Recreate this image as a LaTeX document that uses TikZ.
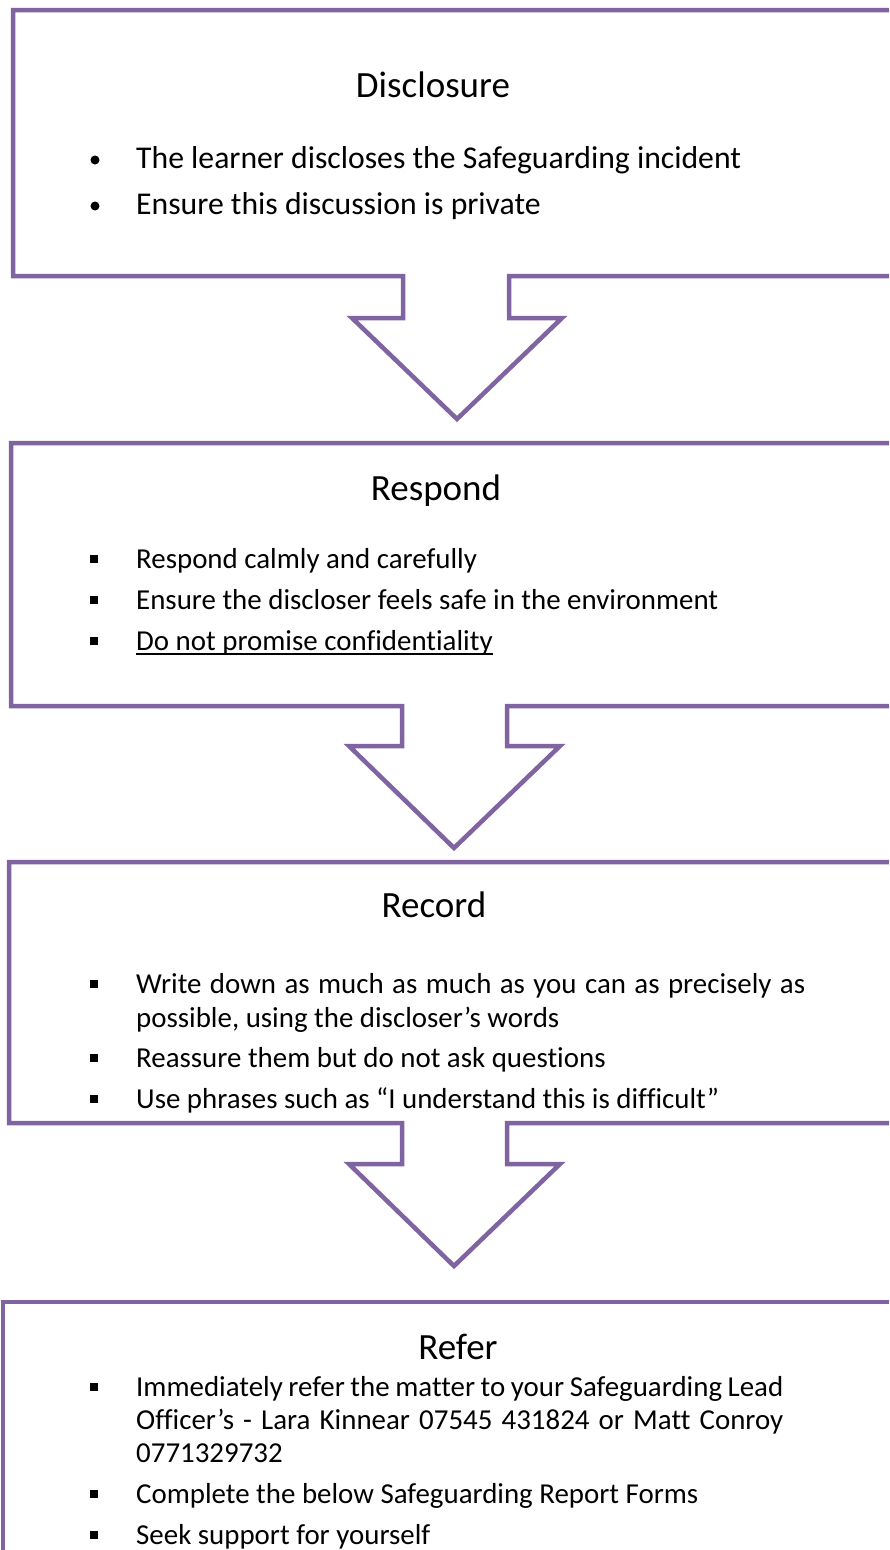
\documentclass[tikz,border=0pt]{standalone}
\usepackage{fontspec}
\setmainfont{Carlito}[Ligatures=NoCommon]
\definecolor{boxpurple}{HTML}{8064A2}
\begin{document}
\begin{tikzpicture}[x=1pt,y=-1pt,
  outline/.style={draw=boxpurple,line width=4.5pt,line join=miter},
  title/.style={anchor=base,inner sep=0pt,font=\fontsize{37}{44}\selectfont},
  bigline/.style={anchor=base west,inner sep=0pt,font=\fontsize{31.7}{38}\selectfont},
  line/.style={anchor=base west,inner sep=0pt,font=\fontsize{28.9}{35}\selectfont},
  sqbullet/.style={fill=black,minimum size=7.5pt,inner sep=0pt,draw=none},
  rdbullet/.style={fill=black,circle,minimum size=9pt,inner sep=0pt,draw=none}]
\useasboundingbox (0,0) rectangle (889,1550);
\clip (0,0) rectangle (889,1550);
\fill[white] (0,0) rectangle (889,1550);

% Box 1 with arrow
\coordinate (b1tr) at (900,10);
\coordinate (b1br) at (900,276);
\draw[outline] (b1tr) -- (13,10) -- (13,276) -- (403,276) -- (403,318) -- (352,318)
  -- (457,419) -- (562,318) -- (509,318) -- (509,276) -- (b1br);
% Box 2 with arrow
\coordinate (b2tr) at (900,443);
\coordinate (b2br) at (900,706);
\draw[outline] (b2tr) -- (11,443) -- (11,706) -- (402,706) -- (402,746) -- (349,746)
  -- (454,848) -- (560,746) -- (507,746) -- (507,706) -- (b2br);
% Box 3 with arrow
\coordinate (b3tr) at (900,862);
\coordinate (b3br) at (900,1123);
\draw[outline] (b3tr) -- (9,862) -- (9,1123) -- (402,1123) -- (402,1164) -- (349,1164)
  -- (454,1266) -- (560,1164) -- (507,1164) -- (507,1123) -- (b3br);
% Box 4
\coordinate (b4tr) at (900,1302);
\coordinate (b4bl) at (3,1600);
\draw[outline] (b4tr) -- (3,1302) -- (b4bl);

% Box 1 text
\node[title] (t1) at (433,97) {Disclosure};
\node[rdbullet] (d1b) at (95,160) {};
\node[bigline] (d1) at (136,168) {The learner discloses the Safeguarding incident};
\node[rdbullet] (d2b) at (95,206) {};
\node[bigline] (d2) at (136,214) {Ensure this discussion is private};

% Box 2 text
\node[title] (t2) at (436,500) {Respond};
\node[sqbullet] (r1b) at (94,559) {};
\node[line] (r1) at (136,568) {Respond calmly and carefully};
\node[sqbullet] (r2b) at (94,600) {};
\node[line] (r2) at (136,609) {Ensure the discloser feels safe in the environment};
\node[sqbullet] (r3b) at (94,641) {};
\node[line] (r3) at (136,650) {Do not promise confidentiality};
\draw[line width=1.3pt] ([yshift=-4pt]r3.base west) -- ([yshift=-4pt]r3.base east);

% Box 3 text
\node[title] (t3) at (434,917) {Record};
\node[sqbullet] (c1b) at (94,984) {};
\node[line] (c1) at (136,993) {\makebox[669pt][s]{Write down as much as much as you can as precisely as}};
\node[line] (c2) at (136,1027) {possible, using the discloser’s words};
\node[sqbullet] (c3b) at (94,1058) {};
\node[line] (c3) at (136,1067) {Reassure them but do not ask questions};
\node[sqbullet] (c4b) at (94,1099) {};
\node[line] (c4) at (136,1108) {Use phrases such as “I understand this is difficult”};

% Box 4 text
\node[title] (t4) at (458,1359) {Refer};
\node[sqbullet] (f1b) at (94,1387) {};
\node[line] (f1) at (136,1396) {\makebox[647pt][s]{Immediately refer the matter to your Safeguarding Lead}};
\node[line] (f2) at (136,1429) {\makebox[647pt][s]{Officer’s - Lara Kinnear 07545 431824 or Matt Conroy}};
\node[line] (f3) at (136,1462) {0771329732};
\node[sqbullet] (f4b) at (94,1494) {};
\node[line] (f4) at (136,1503) {Complete the below Safeguarding Report Forms};
\node[sqbullet] (f5b) at (94,1535) {};
\node[line] (f5) at (136,1544) {Seek support for yourself};
\end{tikzpicture}
\end{document}
